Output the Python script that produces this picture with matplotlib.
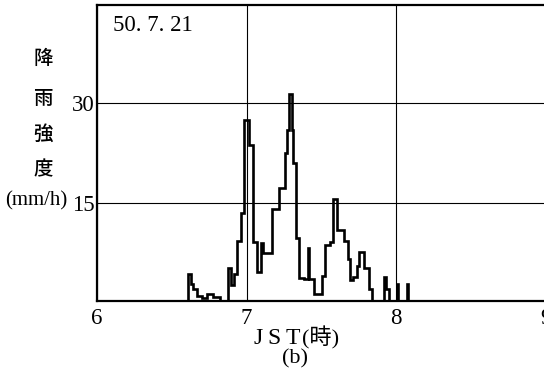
import matplotlib
matplotlib.use("Agg")
import matplotlib.pyplot as plt
import numpy as np

plt.rcParams['font.family'] = ['Liberation Serif', 'Noto Sans CJK JP']

# rainfall intensity record, 1975-07-21 (minutes after 06:00, mm/h, step-wise)
minutes = [36.5, 37.5, 38.5, 40.0, 42.0, 44.0, 46.5, 49.2,
           52.5, 53.6, 55.0, 56.0, 57.6, 58.9, 60.9, 62.6, 64.0, 65.8, 66.4,
           70.3, 72.8, 75.2, 76.3, 76.9, 78.0, 78.5, 79.6, 80.9, 82.8,
           84.5, 84.9, 86.8, 90.0, 91.6, 93.6, 94.5, 96.3, 98.9,
           100.7, 101.6, 102.5, 104.3, 105.2, 107.0, 108.9, 110.3,
           114.9, 116.0, 116.9, 120.2, 120.6, 124.2, 124.6, 125.0]
rain = [4.5, 3.0, 2.2, 1.2, 0.9, 1.5, 1.0, 0.0,
        5.4, 2.8, 4.5, 9.3, 13.5, 27.5, 23.7, 9.2, 4.7, 9.0, 7.5,
        14.2, 17.3, 22.5, 26.0, 31.3, 26.0, 21.0, 9.8, 3.9, 3.7,
        8.3, 3.7, 1.5, 4.2, 8.7, 9.2, 15.7, 11.0, 9.3,
        6.7, 3.5, 4.0, 5.7, 7.7, 5.4, 2.2, 0.0,
        4.0, 2.2, 0.0, 3.0, 0.0, 3.0, 0.0, 0.0]

x_ticks = [6, 7, 8, 9]
y_ticks = [15, 30]
date_label = "50. 7. 21"

hours = 6 + np.array(minutes) / 60.0

fig = plt.figure(figsize=(5.44, 3.76), dpi=100)
ax = fig.add_axes([97 / 544, 75 / 376, 449 / 544, 296 / 376])

# start the trace from the baseline
ax.step(np.concatenate([[hours[0]], hours]), np.concatenate([[0.0], rain]),
        where='post', color='black', lw=1.9, solid_joinstyle='miter')

ax.set_xlim(6, 9)
ax.set_ylim(0.4, 44.6)
ax.set_xticks(x_ticks)
ax.set_yticks(y_ticks)
ax.tick_params(axis='both', length=0, labelsize=16.5)
ax.tick_params(axis='x', pad=5)
ax.tick_params(axis='y', pad=2)
ax.grid(True, color='black', lw=0.8)
for s in ax.spines.values():
    s.set_linewidth(1.6)

ax.text(0.035, 0.93, date_label, transform=ax.transAxes, fontsize=16.5,
        ha='left', va='center')

# vertical y-axis label
for ch, yp in zip("降雨強度", [58, 98, 134, 170]):
    fig.text(43 / 544, 1 - yp / 376, ch, fontsize=14, ha='center', va='center',
             family=['Noto Sans CJK JP'], weight='medium')
fig.text(36 / 544, 1 - 201 / 376, "(mm/h)", fontsize=15, ha='center', va='center')

# x-axis label: spaced "JST" followed by "(時)"
fig.text(301 / 544, 1 - 338 / 376, "J\u2009S\u2009T", fontsize=17,
         ha='right', va='center', family=['Liberation Serif'])
fig.text(302 / 544, 1 - 338 / 376, "(時)", fontsize=16, ha='left', va='center')
fig.text(295 / 544, 1 - 359 / 376, "(b)", fontsize=16, ha='center', va='center')

fig.savefig("out.png", dpi=100)
